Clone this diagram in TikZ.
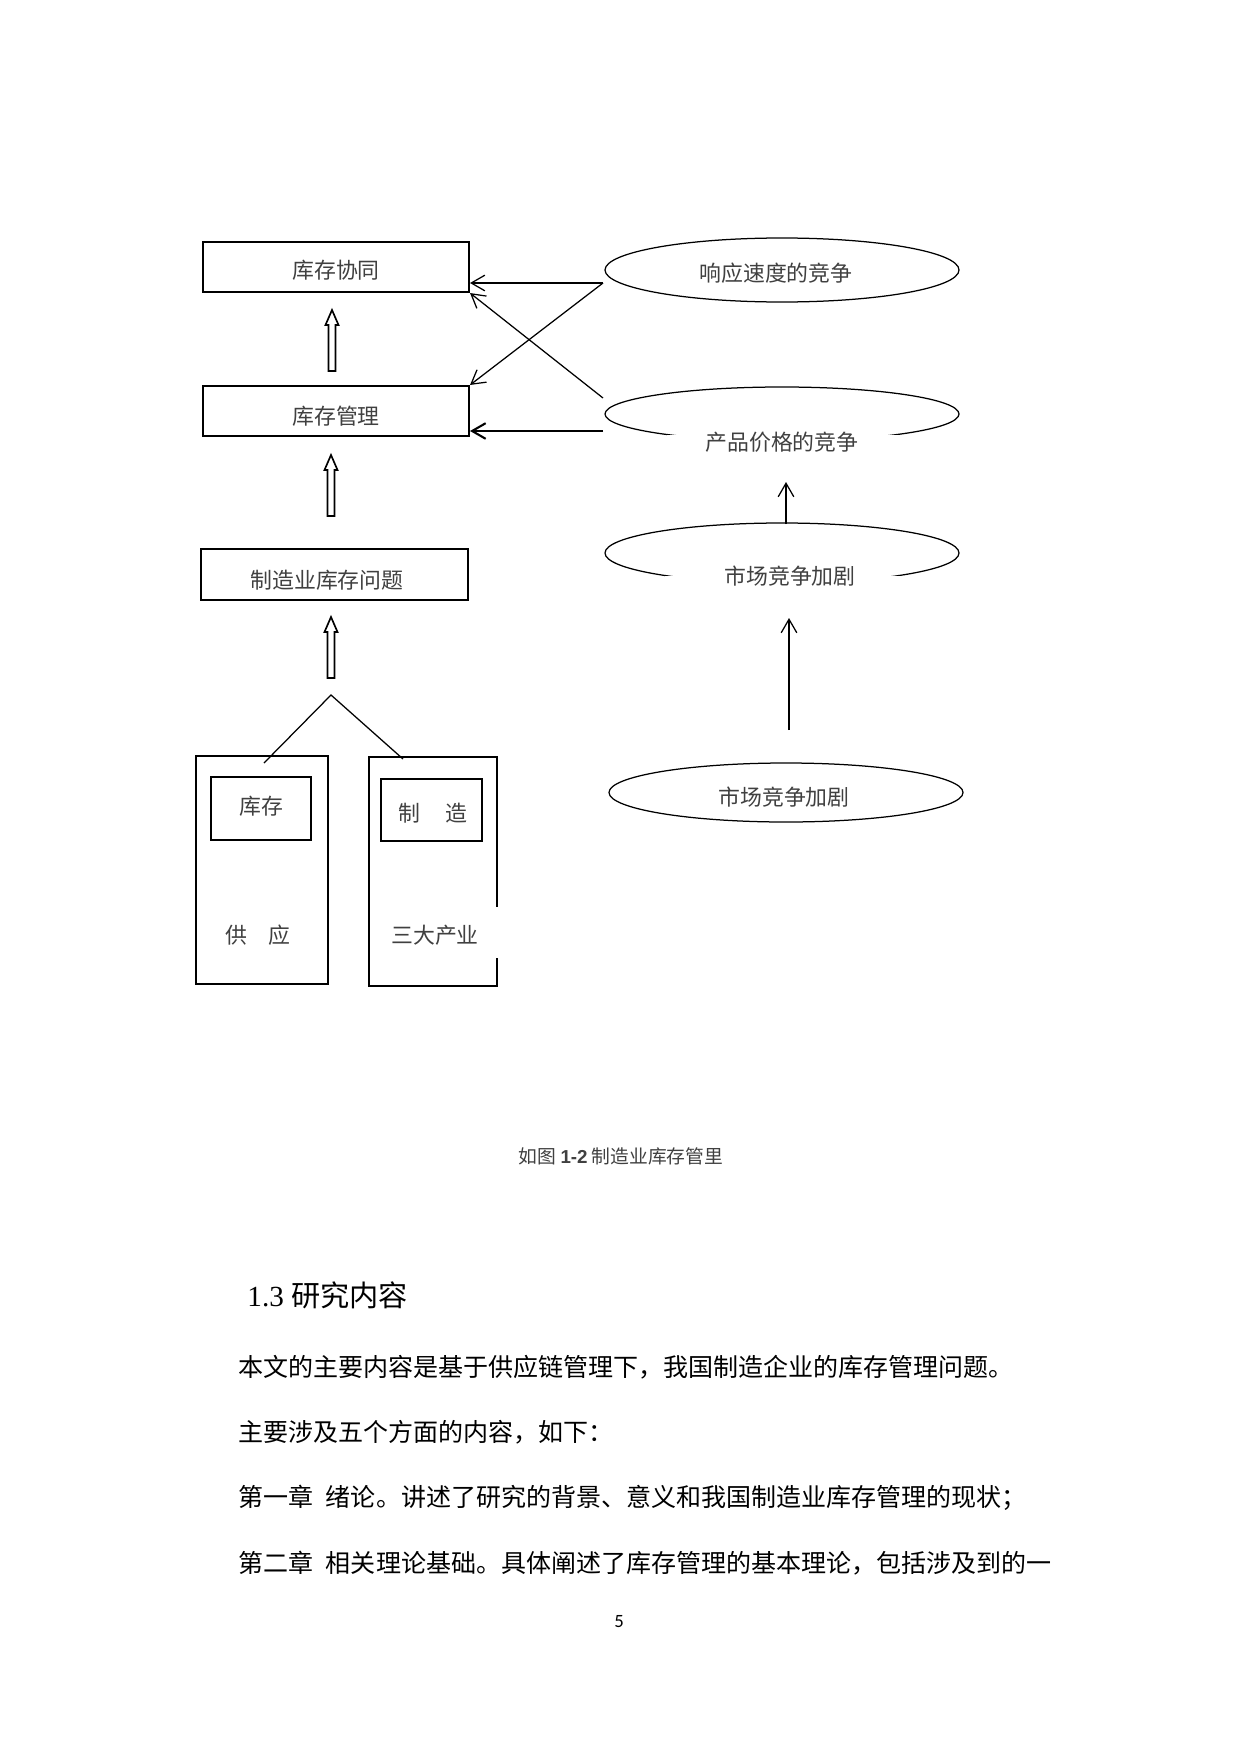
\documentclass[tikz,border=0pt]{standalone}
\usepackage{fontspec}
\setmainfont{Liberation Serif}
\newfontfamily\cjk{Noto Sans CJK SC}
\newfontfamily\lsans{Liberation Sans}
\newfontfamily\carlito{Carlito}
\usetikzlibrary{arrows.meta,shapes.geometric}
\newcommand\pxu{0.4797pt}
\definecolor{labelgray}{gray}{0.25}
\begin{document}
\begin{tikzpicture}[x=0.4797pt,y=-0.4797pt,
  rbox/.style={draw, line width=1pt, inner sep=0pt},
  thinbox/.style={draw, line width=0.7pt, inner sep=0pt},
  lbl/.style={font=\cjk\fontsize{10.5}{12}\selectfont, text=labelgray, inner sep=0pt},
  ell/.style={draw, ellipse, line width=0.6pt, minimum width=354*\pxu, inner sep=0pt},
  cover/.style={fill=white, inner sep=0pt, anchor=north},
  arr/.style={line width=0.6pt, -{Straight Barb[length=6.5pt,width=7.5pt]}},
  body/.style={font=\cjk\fontsize{12}{14}\selectfont, anchor=west, inner sep=0pt},
  hollowup/.pic={\draw[line width=0.8pt, fill=white] (-3.5,0) -- (-3.5,-46) -- (-6.5,-46) -- (0,-61) -- (6.5,-46) -- (3.5,-46) -- (3.5,0) -- cycle;}
]
\fill[white] (0,0) rectangle (1241,1754);
\useasboundingbox (0,0) rectangle (1241,1754);

% left column boxes
\node[rbox, minimum width=266*\pxu, minimum height=50*\pxu] (xc) at (336,267) {};
\node[lbl] (xct) at (336,270) {库存协同};
\node[rbox, minimum width=266*\pxu, minimum height=50*\pxu] (xm) at (336,411) {};
\node[lbl] (xmt) at (336,416) {库存管理};
\node[rbox, minimum width=267*\pxu, minimum height=51*\pxu] (xp) at (334.5,574.5) {};
\node[lbl] (xpt) at (327,580) {制造业库存问题};

% hollow arrows
\pic at (332,371) {hollowup};
\pic at (331,516) {hollowup};
\pic at (331,678) {hollowup};

% triangle
\coordinate (ta) at (331,695);
\coordinate (tl) at (264,763);
\coordinate (tr) at (403,759);

% tall boxes
\node[rbox, minimum width=132*\pxu, minimum height=228*\pxu] (gy) at (262,870) {};
\node[rbox, minimum width=100*\pxu, minimum height=63*\pxu] (kc) at (261,808.5) {};
\node[lbl] (kct) at (261,806) {库存};
\node[lbl] (gyt) at (258,935) {供\hspace{1em}应};

\node[thinbox, minimum width=128*\pxu, minimum height=229*\pxu] (sd) at (433,871.5) {};
\node[fill=white, inner sep=0pt, minimum width=14*\pxu, minimum height=51*\pxu] (sdgap) at (497,932.5) {};
\node[rbox, minimum width=101*\pxu, minimum height=62*\pxu] (zz) at (431.5,810) {};
\node[lbl] (zzt) at (433,813) {制\hspace{1.15em}造};
\node[lbl] (sdt) at (435,935) {三大产业};

\draw[line width=0.6pt] (tl) -- (ta) -- (tr);

% ellipses
\node[ell, minimum height=64*\pxu] (e1) at (782,270) {};
\node[lbl] (e1t) at (776,273) {响应速度的竞争};

\node[ell, minimum height=54*\pxu] (e2) at (782,414) {};
\node[cover, minimum width=236*\pxu, minimum height=30*\pxu] (e2c) at (785,435) {};
\node[lbl] (e2t) at (782,442) {产品价格的竞争};

\node[ell, minimum height=60*\pxu] (e3) at (782,553) {};
\node[cover, minimum width=238*\pxu, minimum height=30*\pxu] (e3c) at (784,575.5) {};
\node[lbl] (e3t) at (790,576) {市场竞争加剧};

\node[ell, minimum height=59*\pxu] (e4) at (786,792.5) {};
\node[lbl] (e4t) at (784,797) {市场竞争加剧};

% connectors
\coordinate (s1) at (603,283);
\coordinate (s2) at (603,398);
\coordinate (s3) at (603,431);
\draw[arr] (s1) -- (xc.east |- s1);
\draw[arr] (s1) -- (xm.north east);
\draw[arr] (s2) -- (xc.south east);
\draw[arr, line width=1pt] (s3) -- (xm.east |- s3);

\coordinate (v1s) at (786,524);
\coordinate (v1e) at (786,482);
\draw[arr] (v1s) -- (v1e);
\coordinate (v2s) at (789,730);
\coordinate (v2e) at (789,618);
\draw[arr] (v2s) -- (v2e);

% caption
\node[font=\cjk\fontsize{9}{11}\selectfont, text=labelgray, inner sep=0pt] (cap) at (621,1156) {如图 {\lsans\bfseries 1-2} 制造业库存管里};

% heading and body
\node[anchor=west, inner sep=0pt] (h13) at (247,1295) {\fontsize{14}{16}\selectfont 1.3 {\cjk 研究内容}};
\node[body] (l1) at (238,1367) {本文的主要内容是基于供应链管理下，我国制造企业的库存管理问题。};
\node[body] (l2) at (238,1432) {主要涉及五个方面的内容，如下：};
\node[body] (l3) at (238,1498) {第一章\hspace{0.5em}绪论。讲述了研究的背景、意义和我国制造业库存管理的现状；};
\node[body] (l4) at (238,1563) {第二章\hspace{0.5em}相关理论基础。具体阐述了库存管理的基本理论，包括涉及到的一};

\node[font=\carlito\fontsize{9}{11}\selectfont, inner sep=0pt] (pg) at (619,1622) {5};
\end{tikzpicture}
\end{document}
